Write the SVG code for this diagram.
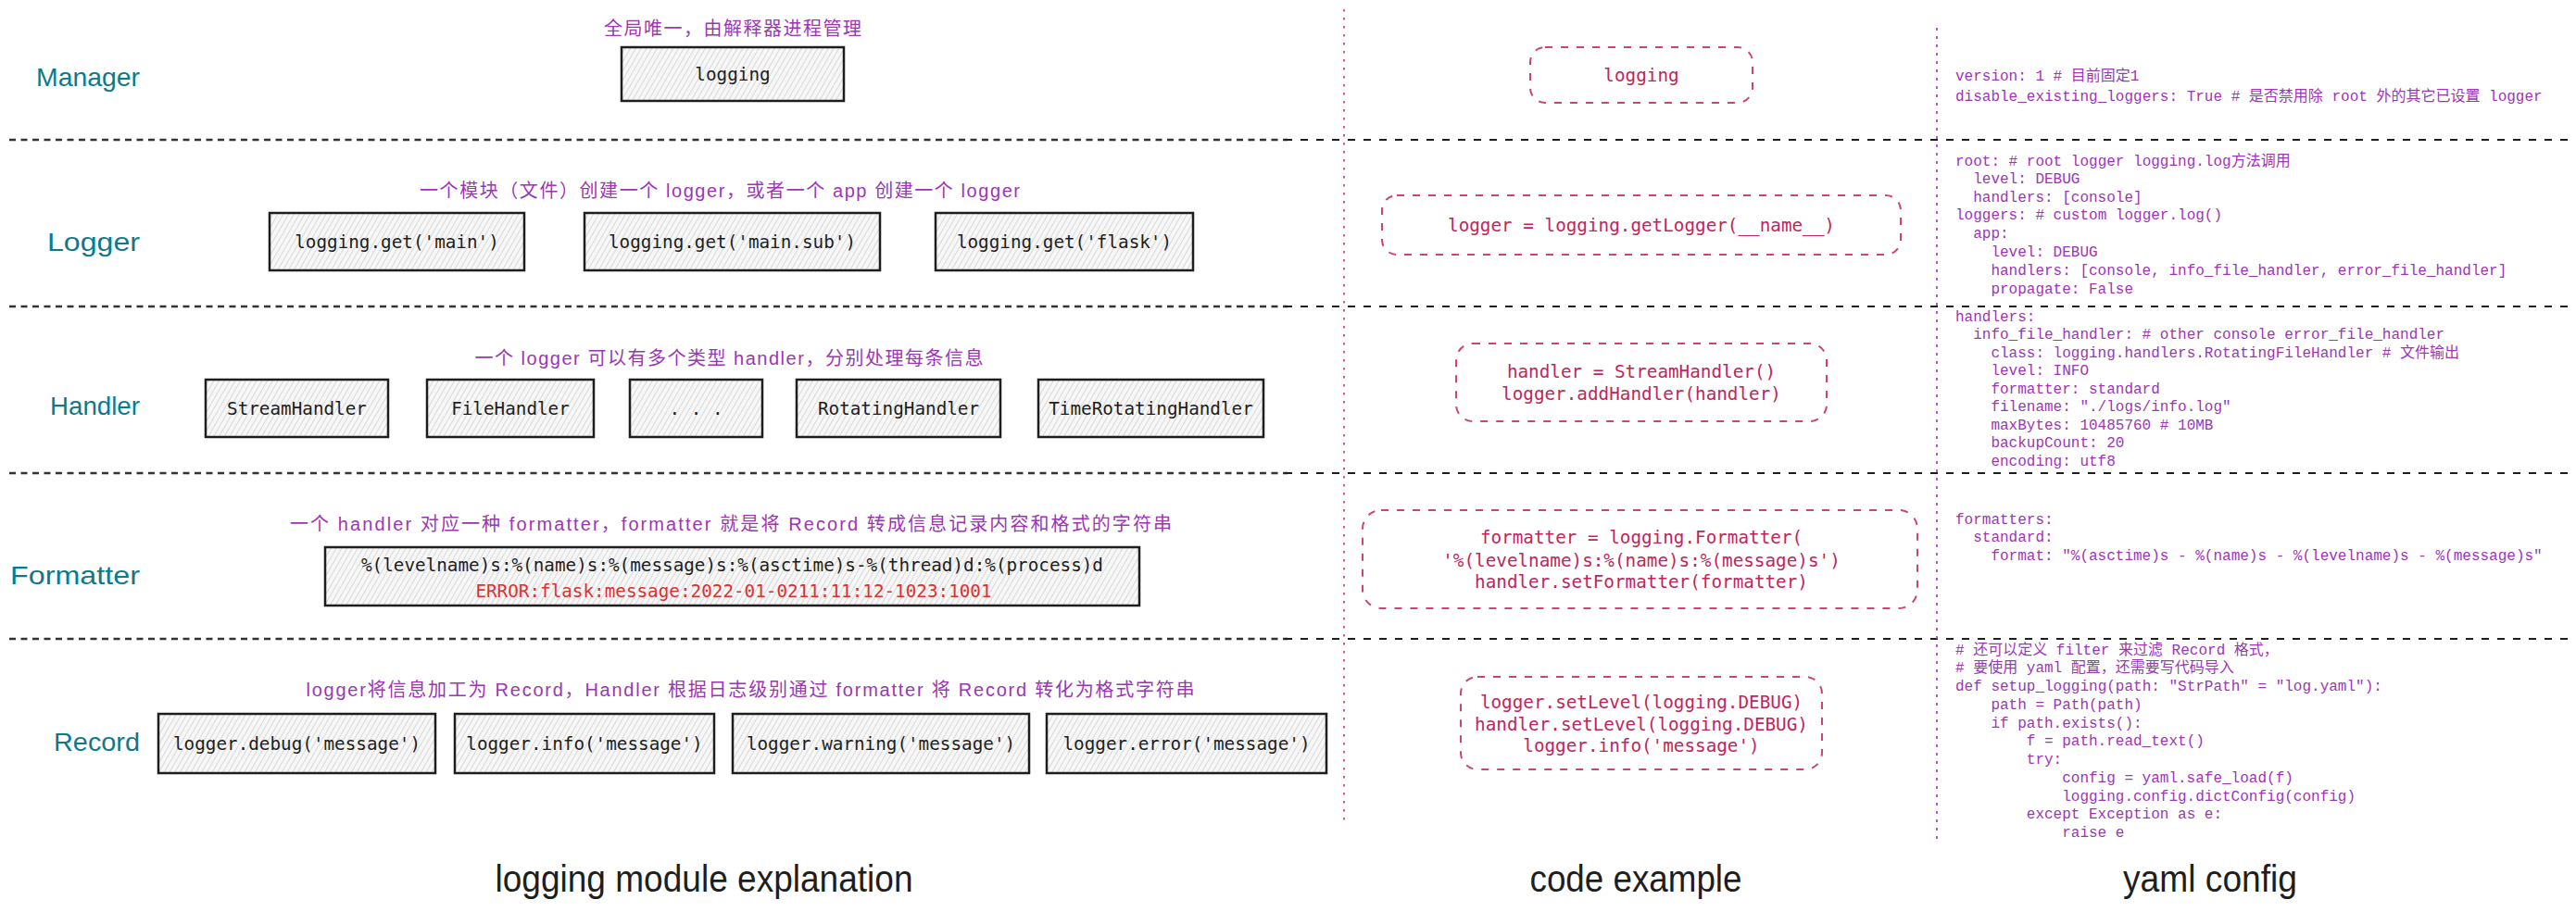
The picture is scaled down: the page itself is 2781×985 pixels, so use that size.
<svg xmlns="http://www.w3.org/2000/svg" width="2781" height="985" viewBox="0 0 2781 985">
<style>
.lbl{font-family:"Liberation Sans","Noto Sans",sans-serif;font-size:28px;fill:#0c7a8c;text-anchor:end}
.ann{font-family:"Liberation Sans","Noto Sans CJK SC",sans-serif;font-size:20px;fill:#9c36b5;text-anchor:middle}
.title{font-family:"Liberation Sans","Noto Sans",sans-serif;font-size:40px;fill:#1e1e1e;text-anchor:middle}
.box{fill:url(#hach);stroke:#1e1e1e;stroke-width:2.5}
.bt{font-family:"DejaVu Sans Mono","Liberation Mono","Noto Sans CJK SC",monospace;font-size:19.3px;fill:#1e1e1e;text-anchor:middle}
.err{fill:#e03131}
.cbox{fill:none;stroke:#c2255c;stroke-width:2;stroke-dasharray:8 9;opacity:.85}
.ct{font-family:"DejaVu Sans Mono","Liberation Mono",monospace;font-size:19.3px;fill:#c2255c;text-anchor:middle}
.y{font-family:"Liberation Mono","DejaVu Sans Mono","Noto Sans CJK SC",monospace;font-size:16px;fill:#9c36b5}
.sepL{stroke:#333;stroke-width:2.5;stroke-dasharray:7 5.5;fill:none}
.sepR{stroke:#1e1e1e;stroke-width:2;stroke-dasharray:8 9;fill:none}
</style>
<defs>
<pattern id="hach" patternUnits="userSpaceOnUse" width="5" height="10" patternTransform="rotate(30)">
<rect width="5" height="10" fill="#f7f7f7"/>
<line x1="0" y1="0" x2="0" y2="10" stroke="#c4c4c4" stroke-width="1.2"/>
</pattern>
</defs>
<rect width="2781" height="985" fill="#ffffff"/>

<g id="separators">
<line class="sepL" x1="10" y1="151" x2="1390" y2="151"/>
<line class="sepR" x1="1387" y1="151" x2="2775" y2="151"/>
<line class="sepL" x1="10" y1="331" x2="1390" y2="331"/>
<line class="sepR" x1="1387" y1="331" x2="2775" y2="331"/>
<line class="sepL" x1="10" y1="511" x2="1390" y2="511"/>
<line class="sepR" x1="1387" y1="511" x2="2775" y2="511"/>
<line class="sepL" x1="10" y1="690" x2="1390" y2="690"/>
<line class="sepR" x1="1387" y1="690" x2="2775" y2="690"/>
<line x1="1451" y1="10" x2="1451" y2="888" stroke="#c2255c" stroke-opacity=".75" stroke-width="2" stroke-dasharray="2.5 6.5"/>
<line x1="2091" y1="30" x2="2091" y2="908" stroke="#9c36b5" stroke-opacity=".8" stroke-width="2" stroke-dasharray="3 6"/>
</g>

<g id="labels">
<text class="lbl" x="151" y="93" textLength="112" lengthAdjust="spacingAndGlyphs">Manager</text>
<text class="lbl" x="151" y="271" textLength="100" lengthAdjust="spacingAndGlyphs">Logger</text>
<text class="lbl" x="151" y="448" textLength="97" lengthAdjust="spacingAndGlyphs">Handler</text>
<text class="lbl" x="151" y="631" textLength="140" lengthAdjust="spacingAndGlyphs">Formatter</text>
<text class="lbl" x="151" y="811" textLength="93" lengthAdjust="spacingAndGlyphs">Record</text>
</g>

<g id="annotations">
<text class="ann" x="791" y="38" textLength="278">全局唯一，由解释器进程管理</text>
<text class="ann" x="777" y="213" textLength="648">一个模块（文件）创建一个 logger，或者一个 app 创建一个 logger</text>
<text class="ann" x="787" y="394" textLength="549">一个 logger 可以有多个类型 handler，分别处理每条信息</text>
<text class="ann" x="789" y="573" textLength="952">一个 handler 对应一种 formatter，formatter 就是将 Record 转成信息记录内容和格式的字符串</text>
<text class="ann" x="810" y="752" textLength="959">logger将信息加工为 Record，Handler 根据日志级别通过 formatter 将 Record 转化为格式字符串</text>
</g>

<g id="manager-logging">
<rect class="box" x="671" y="51" width="240" height="58"/>
<text class="bt" x="791" y="87">logging</text>
</g>

<g id="logger-main">
<rect class="box" x="291" y="230" width="275" height="62"/>
<text class="bt" x="428.5" y="268">logging.get('main')</text>
</g>
<g id="logger-main-sub">
<rect class="box" x="631" y="230" width="319" height="62"/>
<text class="bt" x="790.5" y="268">logging.get('main.sub')</text>
</g>
<g id="logger-flask">
<rect class="box" x="1010" y="230" width="278" height="62"/>
<text class="bt" x="1149" y="268">logging.get('flask')</text>
</g>

<g id="handler-stream">
<rect class="box" x="222" y="410" width="197" height="62"/>
<text class="bt" x="320.5" y="448">StreamHandler</text>
</g>
<g id="handler-file">
<rect class="box" x="461" y="410" width="180" height="62"/>
<text class="bt" x="551" y="448">FileHandler</text>
</g>
<g id="handler-more">
<rect class="box" x="680" y="410" width="143" height="62"/>
<text class="bt" x="751.5" y="448">. . .</text>
</g>
<g id="handler-rotating">
<rect class="box" x="860" y="410" width="220" height="62"/>
<text class="bt" x="970" y="448">RotatingHandler</text>
</g>
<g id="handler-timerotating">
<rect class="box" x="1121" y="410" width="243" height="62"/>
<text class="bt" x="1242.5" y="448">TimeRotatingHandler</text>
</g>

<g id="formatter-format">
<rect class="box" x="351" y="591" width="879" height="63"/>
<text class="bt" x="790.5" y="617">%(levelname)s:%(name)s:%(message)s:%(asctime)s-%(thread)d:%(process)d</text>
<text class="bt err" x="792" y="645">ERROR:flask:message:2022-01-0211:11:12-1023:1001</text>
</g>

<g id="record-debug">
<rect class="box" x="171" y="771" width="299" height="64"/>
<text class="bt" x="320.5" y="810">logger.debug('message')</text>
</g>
<g id="record-info">
<rect class="box" x="491" y="771" width="280" height="64"/>
<text class="bt" x="631" y="810">logger.info('message')</text>
</g>
<g id="record-warning">
<rect class="box" x="791" y="771" width="320" height="64"/>
<text class="bt" x="951" y="810">logger.warning('message')</text>
</g>
<g id="record-error">
<rect class="box" x="1130" y="771" width="302" height="64"/>
<text class="bt" x="1281" y="810">logger.error('message')</text>
</g>

<g id="code-logging">
<rect class="cbox" x="1652" y="51" width="240" height="60" rx="16"/>
<text class="ct" x="1772" y="88">logging</text>
</g>
<g id="code-getlogger">
<rect class="cbox" x="1492" y="211" width="560" height="64" rx="16"/>
<text class="ct" x="1772" y="250">logger = logging.getLogger(__name__)</text>
</g>
<g id="code-handler">
<rect class="cbox" x="1572" y="371" width="400" height="84" rx="18"/>
<text class="ct" x="1772" y="408">handler = StreamHandler()</text>
<text class="ct" x="1772" y="432">logger.addHandler(handler)</text>
</g>
<g id="code-formatter">
<rect class="cbox" x="1471" y="551" width="599" height="106" rx="20"/>
<text class="ct" x="1772" y="587">formatter = logging.Formatter(</text>
<text class="ct" x="1772" y="612">'%(levelname)s:%(name)s:%(message)s')</text>
<text class="ct" x="1772" y="635">handler.setFormatter(formatter)</text>
</g>
<g id="code-level">
<rect class="cbox" x="1577" y="731" width="390" height="100" rx="18"/>
<text class="ct" x="1772" y="765">logger.setLevel(logging.DEBUG)</text>
<text class="ct" x="1772" y="789">handler.setLevel(logging.DEBUG)</text>
<text class="ct" x="1772" y="812">logger.info('message')</text>
</g>

<g id="yaml-config">
<text class="y" x="2111" y="87">version: 1 # 目前固定1</text>
<text class="y" x="2111" y="109">disable_existing_loggers: True # 是否禁用除 root 外的其它已设置 logger</text>
<text class="y" x="2111" y="179">root: # root logger logging.log方法调用</text>
<text class="y" x="2130.2" y="198">level: DEBUG</text>
<text class="y" x="2130.2" y="218">handlers: [console]</text>
<text class="y" x="2111" y="237">loggers: # custom logger.log()</text>
<text class="y" x="2130.2" y="257">app:</text>
<text class="y" x="2149.4" y="277">level: DEBUG</text>
<text class="y" x="2149.4" y="297">handlers: [console, info_file_handler, error_file_handler]</text>
<text class="y" x="2149.4" y="317">propagate: False</text>
<text class="y" x="2111" y="347">handlers:</text>
<text class="y" x="2130.2" y="366">info_file_handler: # other console error_file_handler</text>
<text class="y" x="2149.4" y="386">class: logging.handlers.RotatingFileHandler # 文件输出</text>
<text class="y" x="2149.4" y="405">level: INFO</text>
<text class="y" x="2149.4" y="425">formatter: standard</text>
<text class="y" x="2149.4" y="444">filename: "./logs/info.log"</text>
<text class="y" x="2149.4" y="464">maxBytes: 10485760 # 10MB</text>
<text class="y" x="2149.4" y="483">backupCount: 20</text>
<text class="y" x="2149.4" y="503">encoding: utf8</text>
<text class="y" x="2111" y="566">formatters:</text>
<text class="y" x="2130.2" y="585">standard:</text>
<text class="y" x="2149.4" y="605">format: "%(asctime)s - %(name)s - %(levelname)s - %(message)s"</text>
<text class="y" x="2111" y="707"># 还可以定义 filter 来过滤 Record 格式，</text>
<text class="y" x="2111" y="726"># 要使用 yaml 配置，还需要写代码导入</text>
<text class="y" x="2111" y="746">def setup_logging(path: "StrPath" = "log.yaml"):</text>
<text class="y" x="2149.4" y="766">path = Path(path)</text>
<text class="y" x="2149.4" y="786">if path.exists():</text>
<text class="y" x="2187.8" y="805">f = path.read_text()</text>
<text class="y" x="2187.8" y="825">try:</text>
<text class="y" x="2226.2" y="845">config = yaml.safe_load(f)</text>
<text class="y" x="2226.2" y="865">logging.config.dictConfig(config)</text>
<text class="y" x="2187.8" y="884">except Exception as e:</text>
<text class="y" x="2226.2" y="904">raise e</text>
</g>

<g id="titles">
<text class="title" x="760" y="963" textLength="451" lengthAdjust="spacingAndGlyphs">logging module explanation</text>
<text class="title" x="1766" y="963" textLength="229" lengthAdjust="spacingAndGlyphs">code example</text>
<text class="title" x="2386" y="963" textLength="188" lengthAdjust="spacingAndGlyphs">yaml config</text>
</g>
</svg>
